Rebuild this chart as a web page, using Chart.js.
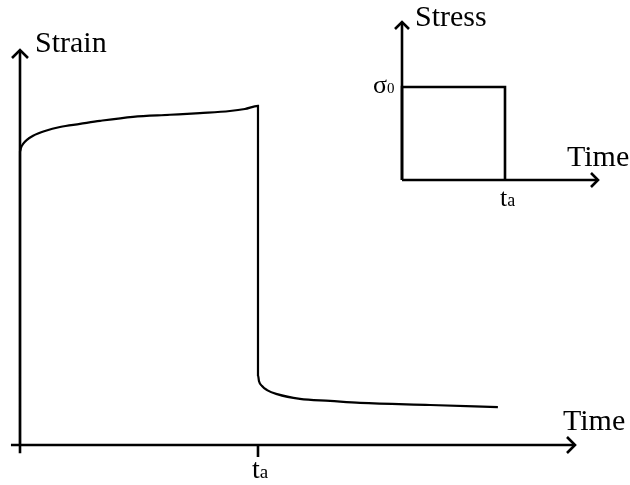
<!DOCTYPE html>
<html>
<head>
<meta charset="utf-8">
<script src="https://cdn.jsdelivr.net/npm/chart.js@4/dist/chart.umd.min.js"></script>
<style>
  html, body { margin: 0; padding: 0; background: #fff; }
  #wrap { position: relative; width: 630px; height: 485px; }
  #main { position: absolute; left: 0; top: 0; }
  #inset { position: absolute; left: 370px; top: 0; }
</style>
</head>
<body>
<div id="wrap">
  <canvas id="main" width="630" height="485"></canvas>
  <canvas id="inset" width="260" height="220"></canvas>
</div>
<script>
// Strain response (time in units of t_a, strain relative to value at t_a)
const strainTime = [0, 0, 0.004, 0.013, 0.029, 0.055, 0.105, 0.168, 0.252, 0.336, 0.475, 0.63, 0.756, 0.882, 0.945, 1.0,
  1.0, 1.004, 1.017, 1.038, 1.08, 1.176, 1.303, 1.429, 1.723, 2.008]
const strainValues = [0, 0.864, 0.876, 0.888, 0.9, 0.912, 0.926, 0.938, 0.947, 0.956, 0.968, 0.974, 0.979, 0.985, 0.991, 1.0,
  0.206, 0.189, 0.174, 0.162, 0.15, 0.136, 0.13, 0.124, 0.118, 0.112]

// Applied stress (step load removed at t_a)
const stressTime = [0, 0, 1, 1]
const stressValues = [0, 1, 1, 0]

// Axis titles and tick labels
const mainTitles = ["Strain", "Time"]
const insetTitles = ["Stress", "Time"]
const timeTick = ["t", "a"]
const stressTick = ["σ", "0"]

const FONT = '"Liberation Serif", "Times New Roman", serif'

// Draws arrow-headed axes, tick marks and text labels from the chart scales
const arrowAxes = {
  id: "arrowAxes",
  afterDraw(chart, args, opts) {
    const ctx = chart.ctx
    const xs = chart.scales.x
    const ys = chart.scales.y
    const ox = xs.getPixelForValue(0)
    const oy = ys.getPixelForValue(0)
    const xEnd = xs.right
    const yEnd = ys.top
    const a = opts.arrow

    ctx.save()
    ctx.strokeStyle = "#000"
    ctx.lineWidth = opts.lineWidth
    ctx.lineCap = "butt"

    // x axis
    ctx.beginPath()
    ctx.moveTo(xs.getPixelForValue(opts.xFrom), oy)
    ctx.lineTo(xEnd, oy)
    ctx.stroke()
    ctx.beginPath()
    ctx.moveTo(xEnd - a, oy - a)
    ctx.lineTo(xEnd, oy)
    ctx.lineTo(xEnd - a, oy + a)
    ctx.stroke()

    // y axis
    ctx.beginPath()
    ctx.moveTo(ox, ys.getPixelForValue(opts.yFrom))
    ctx.lineTo(ox, yEnd)
    ctx.stroke()
    ctx.beginPath()
    ctx.moveTo(ox - a, yEnd + a)
    ctx.lineTo(ox, yEnd)
    ctx.lineTo(ox + a, yEnd + a)
    ctx.stroke()

    // tick marks on x axis
    opts.ticks.forEach((t) => {
      const px = xs.getPixelForValue(t)
      ctx.beginPath()
      ctx.moveTo(px, oy)
      ctx.lineTo(px, oy + opts.tickLen)
      ctx.stroke()
    })

    // labels
    ctx.fillStyle = "#000"
    ctx.textAlign = "left"
    ctx.textBaseline = "alphabetic"
    opts.labels.forEach((l) => {
      const px = xs.getPixelForValue(l.x) + l.dx
      const py = ys.getPixelForValue(l.y) + l.dy
      ctx.font = l.size + "px " + FONT
      ctx.fillText(l.text, px, py)
      if (l.sub) {
        const w = ctx.measureText(l.text).width
        ctx.font = l.subSize + "px " + FONT
        ctx.fillText(l.sub, px + w, py)
      }
    })
    ctx.restore()
  },
}

const baseOptions = {
  responsive: false,
  animation: false,
  events: [],
  plugins: { legend: { display: false }, tooltip: { enabled: false } },
}

// Main strain-time chart
const mainXMax = 2.332
const mainYMax = 1.165
new Chart(document.getElementById("main"), {
  type: "scatter",
  data: {
    datasets: [
      {
        data: strainTime.map((t, i) => ({ x: t, y: strainValues[i] })),
        showLine: true,
        borderColor: "#000",
        borderWidth: 2.2,
        pointRadius: 0,
        cubicInterpolationMode: "monotone",
        clip: false,
      },
    ],
  },
  options: {
    ...baseOptions,
    layout: { padding: { left: 20, top: 50, right: 55, bottom: 40 } },
    scales: {
      x: { type: "linear", min: 0, max: mainXMax, display: false },
      y: { type: "linear", min: 0, max: mainYMax, display: false },
    },
    plugins: {
      ...baseOptions.plugins,
      arrowAxes: {
        lineWidth: 2.6,
        arrow: 8,
        xFrom: -0.038,
        yFrom: -0.024,
        tickLen: 12,
        ticks: [1],
        labels: [
          { text: mainTitles[0], x: 0, y: mainYMax, dx: 15, dy: 2, size: 30 },
          { text: mainTitles[1], x: mainXMax, y: 0, dx: -12, dy: -15, size: 30 },
          { text: timeTick[0], x: 1, y: 0, dx: -6, dy: 33, size: 28, sub: timeTick[1], subSize: 19 },
        ],
      },
    },
  },
  plugins: [arrowAxes],
})

// Inset stress-time chart
const insetXMax = 1.903
const insetYMax = 1.699
new Chart(document.getElementById("inset"), {
  type: "scatter",
  data: {
    datasets: [
      {
        data: stressTime.map((t, i) => ({ x: t, y: stressValues[i] })),
        showLine: true,
        borderColor: "#000",
        borderWidth: 2.6,
        pointRadius: 0,
        tension: 0,
        clip: false,
      },
    ],
  },
  options: {
    ...baseOptions,
    layout: { padding: { left: 32, top: 22, right: 32, bottom: 40 } },
    scales: {
      x: { type: "linear", min: 0, max: insetXMax, display: false },
      y: { type: "linear", min: 0, max: insetYMax, display: false },
    },
    plugins: {
      ...baseOptions.plugins,
      arrowAxes: {
        lineWidth: 2.6,
        arrow: 7,
        xFrom: 0,
        yFrom: 0,
        tickLen: 0,
        ticks: [],
        labels: [
          { text: insetTitles[0], x: 0, y: insetYMax, dx: 13, dy: 4, size: 30 },
          { text: insetTitles[1], x: insetXMax, y: 0, dx: -31, dy: -14, size: 30 },
          { text: stressTick[0], x: 0, y: 1, dx: -29, dy: 6, size: 26, sub: stressTick[1], subSize: 15 },
          { text: timeTick[0], x: 1, y: 0, dx: -5, dy: 26, size: 26, sub: timeTick[1], subSize: 18 },
        ],
      },
    },
  },
  plugins: [arrowAxes],
})
</script>
</body>
</html>
